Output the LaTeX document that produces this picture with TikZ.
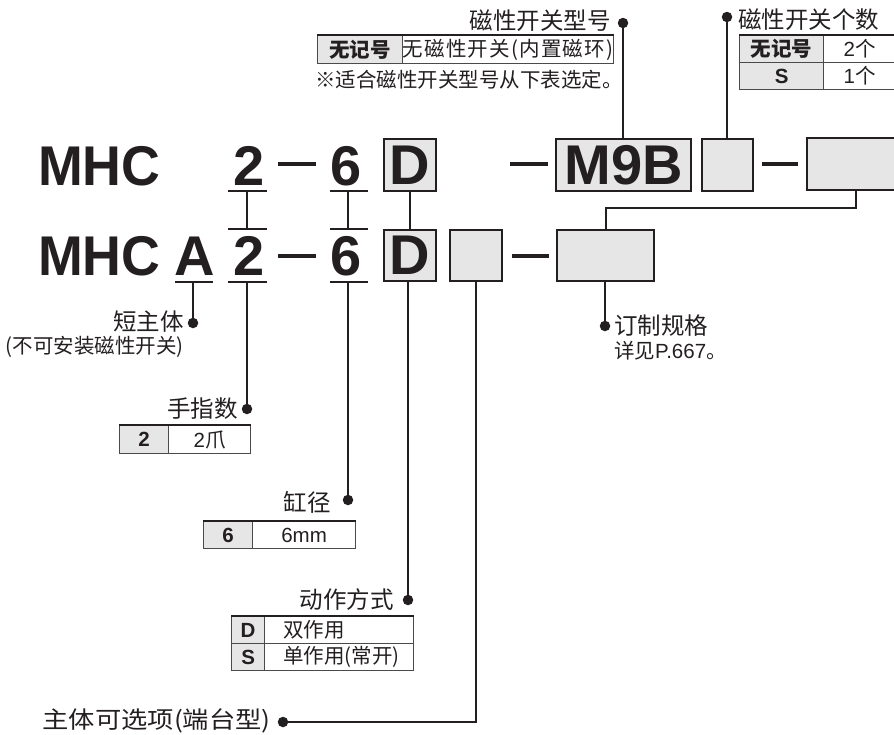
\documentclass[tikz,border=0pt]{standalone}
\usepackage{fontspec}
\usepackage{graphicx}
\setmainfont{Liberation Sans}
\newfontfamily\cjk{Noto Sans CJK SC}
\definecolor{ink}{HTML}{231F20}
\definecolor{keyfill}{HTML}{E6E6E6}
\definecolor{rulec}{HTML}{4A4A4A}
\tikzset{
 big/.style={font=\fontsize{56}{60}\selectfont\bfseries, text=ink, inner sep=0pt},
 codebox/.style={draw=ink, line width=2.5pt, fill=keyfill, inner sep=0pt},
 head/.style={font=\cjk\fontsize{23.5}{26}\selectfont, text=ink, inner sep=0pt},
 small/.style={font=\cjk\fontsize{20.5}{23}\selectfont, text=ink, inner sep=0pt},
 conn/.style={draw=ink, line width=2pt},
 dashbar/.style={draw=ink, line width=4pt},
 dotmark/.style={circle, fill=ink, inner sep=0pt, minimum size=10.5pt},
 keycell/.style={draw=rulec, line width=1.2pt, fill=keyfill, inner sep=0pt, anchor=north west, text=ink, font=\bfseries\fontsize{20.5}{23}\selectfont},
 valcell/.style={draw=rulec, line width=1.2pt, inner sep=0pt, anchor=north west, text=ink, font=\fontsize{20.5}{23}\selectfont},
 topedge/.style={draw=ink, line width=2.2pt},
}
\begin{document}
\begin{tikzpicture}[x=1pt,y=-1pt]
\useasboundingbox (0,0) rectangle (894,734);
\clip (0,0) rectangle (894,734);

% ---------- big code rows ----------
\node[big, anchor=base west] (mhc1) at (38,185) {\scalebox{0.96}[1]{MHC}};
\node[big, anchor=base west] (mhc2) at (38,275) {\scalebox{0.96}[1]{MHC}};
\node[big, anchor=base] (a2) at (194.5,275) {A};
\node[big, anchor=base] (two1) at (249,185) {2};
\node[big, anchor=base] (two2) at (249,275) {2};
\node[big, anchor=base] (six1) at (346,185) {6};
\node[big, anchor=base] (six2) at (346,275) {6};
\node[codebox, big, minimum width=52pt, minimum height=52pt] (D1) at (410,165) {D};
\node[codebox, big, minimum width=52pt, minimum height=51pt] (D2) at (410,255.5) {D};
\node[codebox, big, minimum width=135pt, minimum height=52pt] (m9b) at (623.5,165) {M9B};
\node[codebox, minimum width=51pt, minimum height=52pt] (sw) at (727.5,165) {};
\node[codebox, minimum width=98pt, minimum height=52pt] (opt) at (856,164) {};
\node[codebox, minimum width=52pt, minimum height=51pt] (sb2) at (476,255.5) {};
\node[codebox, minimum width=97pt, minimum height=51pt] (cust) at (605.5,255.5) {};

% dashes
\draw[dashbar] (278,164) -- (316,164);
\draw[dashbar] (278,256) -- (316,256);
\draw[dashbar] (510,164) -- (548,164);
\draw[dashbar] (762,164) -- (798,164);
\draw[dashbar] (512,256) -- (549,256);

% underlines and bars
\draw[conn] (228,191) -- (267,191);
\draw[conn] (330,191) -- (368,191);
\draw[conn] (228,229) -- (267,229);
\draw[conn] (330,229) -- (368,229);
\draw[conn] (175,282) -- (213,282);
\draw[conn] (228,282) -- (267,282);
\draw[conn] (330,282) -- (368,282);

\coordinate (u2t) at (247,191);
\coordinate (u2m) at (247,229);
\coordinate (u6t) at (348,191);
\coordinate (u6m) at (348,229);
\coordinate (uA) at (193,282);
\coordinate (u2b) at (247,282);
\coordinate (u6b) at (348,282);

% ---------- dots ----------
\node[dotmark] (dM9B) at (623,23) {};
\node[dotmark] (dNum) at (727,17) {};
\node[dotmark] (dA) at (193,323) {};
\node[dotmark] (d2) at (247,409) {};
\node[dotmark] (d6) at (348,500) {};
\node[dotmark] (dD) at (408,600) {};
\node[dotmark] (dOpt) at (283,722) {};
\node[dotmark] (dCust) at (605,326) {};

% ---------- connectors ----------
\draw[conn] (u2t) -- (u2m);
\draw[conn] (u6t) -- (u6m);
\draw[conn] (D1.south) -- (D2.north);
\draw[conn] (uA) -- (dA.center);
\draw[conn] (u2b) -- (d2.center);
\draw[conn] (u6b) -- (d6.center);
\draw[conn] (D2.south -| dD) -- (dD.center);
\draw[conn] (sb2.south) |- (dOpt.center);
\draw[conn] (cust.south -| dCust) -- (dCust.center);
\draw[conn] (m9b.north -| dM9B) -- (dM9B.center);
\draw[conn] (sw.north -| dNum) -- (dNum.center);
\draw[conn] (opt.south) -- ++(0,17) -| (cust.north);

% ---------- labels ----------
\node[head, anchor=east] (lM9B) at (611,21) {磁性开关型号};
\node[head, anchor=west] (lNum) at (738,20) {磁性开关个数};
\node[head, anchor=east] (lA) at (184,322) {短主体};
\node[small, anchor=east] (lA2) at (184,347) {(不可安装磁性开关)};
\node[head, anchor=east] (l2) at (238,409) {手指数};
\node[head, anchor=east] (l6) at (331,502) {缸径};
\node[head, anchor=east] (lD) at (394,600) {动作方式};
\node[head, anchor=east] (lOpt) at (271,721) {\scalebox{1.12}[1]{主体可选项(端台型)}};
\node[head, anchor=west] (lCust) at (614,326) {订制规格};
\node[small, anchor=west] (lCust2) at (614,351) {详见\fontspec{Liberation Sans}P.667\cjk 。};

% ---------- tables ----------
% switch model table
\node[keycell, minimum width=85pt, minimum height=28pt] (t1k) at (317,35) {\cjk 无记号};
\node[valcell, minimum width=210pt, minimum height=28pt] (t1v) at (402,35) {\cjk\addfontfeature{LetterSpace=6}无磁性开关(内置磁环)};
\draw[topedge] (t1k.north west) -- (t1v.north east);
\node[small, anchor=west] (note) at (315,80) {※适合磁性开关型号从下表选定。};

% switch count table
\node[keycell, minimum width=84pt, minimum height=27pt] (t2k1) at (739,35) {\cjk 无记号};
\node[valcell, minimum width=72pt, minimum height=27pt] (t2v1) at (823,35) {2\cjk 个};
\node[keycell, minimum width=84pt, minimum height=27pt] (t2k2) at (739,62) {S};
\node[valcell, minimum width=72pt, minimum height=27pt] (t2v2) at (823,62) {1\cjk 个};
\draw[topedge] (t2k1.north west) -- (t2v1.north east);

% fingers table
\node[keycell, minimum width=49pt, minimum height=28pt] (t3k) at (119,425) {2};
\node[valcell, minimum width=82pt, minimum height=28pt] (t3v) at (168,425) {2\cjk 爪};
\draw[topedge] (t3k.north west) -- (t3v.north east);

% bore table
\node[keycell, minimum width=49pt, minimum height=27pt] (t4k) at (203,521) {6};
\node[valcell, minimum width=103pt, minimum height=27pt] (t4v) at (252,521) {6mm};
\draw[topedge] (t4k.north west) -- (t4v.north east);

% action table
\node[keycell, minimum width=33pt, minimum height=27pt] (t5k1) at (231,616) {D};
\node[valcell, minimum width=149pt, minimum height=27pt] (t5v1) at (264,616) {};
\node[keycell, minimum width=33pt, minimum height=27pt] (t5k2) at (231,643) {S};
\node[valcell, minimum width=149pt, minimum height=27pt] (t5v2) at (264,643) {};
\node[small, anchor=west] (t5t1) at ([xshift=19pt]t5v1.west) {双作用};
\node[small, anchor=west] (t5t2) at ([xshift=19pt]t5v2.west) {单作用(常开)};
\draw[topedge] (t5k1.north west) -- (t5v1.north east);
\end{tikzpicture}
\end{document}
